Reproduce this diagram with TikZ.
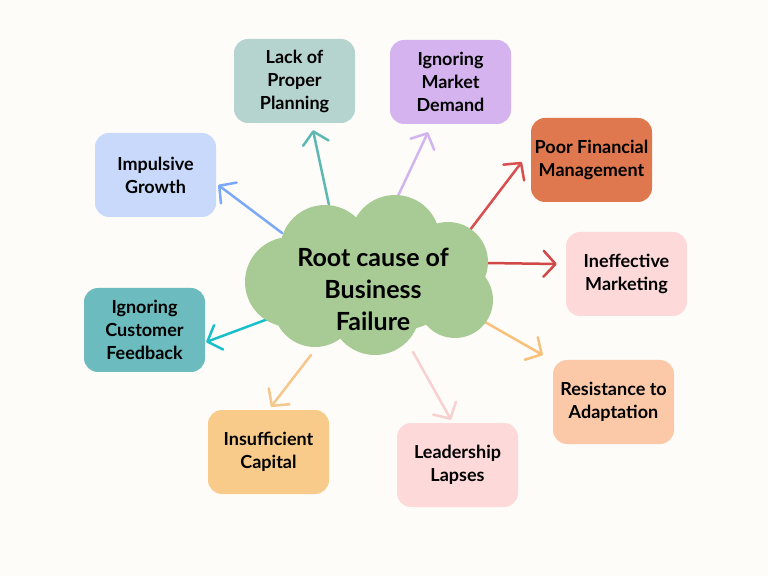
\documentclass[tikz,border=0pt]{standalone}
\usepackage{fontspec}
\setmainfont{Lato}
\usetikzlibrary{arrows.meta}
\definecolor{bgc}{HTML}{FDFCF8}
\definecolor{cloudc}{HTML}{A8CB96}
\definecolor{cPlan}{HTML}{B5D3CF}
\definecolor{cMarket}{HTML}{D5B3EE}
\definecolor{cImp}{HTML}{C8D9FB}
\definecolor{cFin}{HTML}{E0784F}
\definecolor{cIneff}{HTML}{FDD9D9}
\definecolor{cCust}{HTML}{6CBBBE}
\definecolor{cRes}{HTML}{FCC9A8}
\definecolor{cCap}{HTML}{F8CB8A}
\definecolor{cLead}{HTML}{FDD9D9}
\definecolor{aImp}{HTML}{7BA9F7}
\definecolor{aPlan}{HTML}{5DB8B4}
\definecolor{aMarket}{HTML}{D2B4EE}
\definecolor{aFin}{HTML}{D84F4F}
\definecolor{aIneff}{HTML}{D04848}
\definecolor{aRes}{HTML}{F9C07A}
\definecolor{aLead}{HTML}{F9D0D0}
\definecolor{aCap}{HTML}{F6C78C}
\definecolor{aCust}{HTML}{18C0CC}
\tikzset{
  causebox/.style={rectangle, rounded corners=14pt, minimum width=121pt, minimum height=84pt,
    align=center, inner sep=0pt, font=\fontsize{18}{23}\selectfont\bfseries, text=black},
  arr/.style={line width=2.5pt, line cap=round, draw=#1,
    -{Straight Barb[length=12pt,width=26pt,line width=2.5pt,round]}},
}
\begin{document}
\begin{tikzpicture}[x=1pt,y=1pt]
\fill[bgc] (0,0) rectangle (768,576);
\useasboundingbox (0,0) rectangle (768,576);

% boxes
\node[causebox, fill=cPlan] (plan) at (294.5,495) {Lack of\\Proper\\Planning};
\node[causebox, fill=cMarket] (market) at (450.5,494) {Ignoring\\Market\\Demand};
\node[causebox, fill=cImp] (imp) at (155.5,401) {Impulsive\\Growth};
\node[causebox, fill=cFin] (fin) at (591.5,416) {Poor Financial\\Management};
\node[causebox, fill=cIneff] (ineff) at (626.5,302) {Ineffective\\Marketing};
\node[causebox, fill=cCust] (cust) at (144.5,246) {Ignoring\\Customer\\Feedback};
\node[causebox, fill=cRes] (res) at (613.5,174) {Resistance to\\Adaptation};
\node[causebox, fill=cCap] (cap) at (268.5,124) {Insufficient\\Capital};
\node[causebox, fill=cLead] (lead) at (457.5,111) {Leadership\\Lapses};

% arrow starts on the cloud
\coordinate (sImp) at (282,343);
\coordinate (sPlan) at (329,371);
\coordinate (sMarket) at (398,380);
\coordinate (sFin) at (470,346);
\coordinate (sIneff) at (487,313);
\coordinate (sRes) at (485,254);
\coordinate (sLead) at (413,224);
\coordinate (sCap) at (311,221);
\coordinate (sCust) at (276,260);

\draw[arr=aImp] (sImp) -- ([xshift=2pt,yshift=-10pt]imp.east);
\draw[arr=aPlan] (sPlan) -- ([xshift=18.5pt,yshift=-7pt]plan.south);
\draw[arr=aMarket] (sMarket) -- ([xshift=-22.5pt,yshift=-8pt]market.south);
\draw[arr=aFin] (sFin) -- ([xshift=-9pt,yshift=-2pt]fin.west);
\draw[arr=aIneff] (sIneff) -- ([xshift=-9pt,yshift=10pt]ineff.west);
\draw[arr=aRes] (sRes) -- ([xshift=-10pt,yshift=47pt]res.west);
\draw[arr=aLead] (sLead) -- ([xshift=-6.5pt,yshift=3pt]lead.north);
\draw[arr=aCap] (sCap) -- ([xshift=2.5pt,yshift=3pt]cap.north);
\draw[arr=aCust] (sCust) -- ([xshift=1pt,yshift=-12pt]cust.east);

% cloud (image coords: y -> 576-y)
\fill[cloudc]
  (290,294) circle[radius=45]
  (325,326) circle[radius=45]
  (395,336) circle[radius=45]
  (448,314) circle[radius=40]
  (455,276) circle[radius=38]
  (375,266) circle[radius=45]
  (315,271) circle[radius=42]
  (368,296) ellipse[x radius=100, y radius=55];
\node[align=center, font=\fontsize{25}{32}\selectfont\bfseries] (root) at (373,287)
  {Root cause of\\Business\\Failure};
\end{tikzpicture}
\end{document}
